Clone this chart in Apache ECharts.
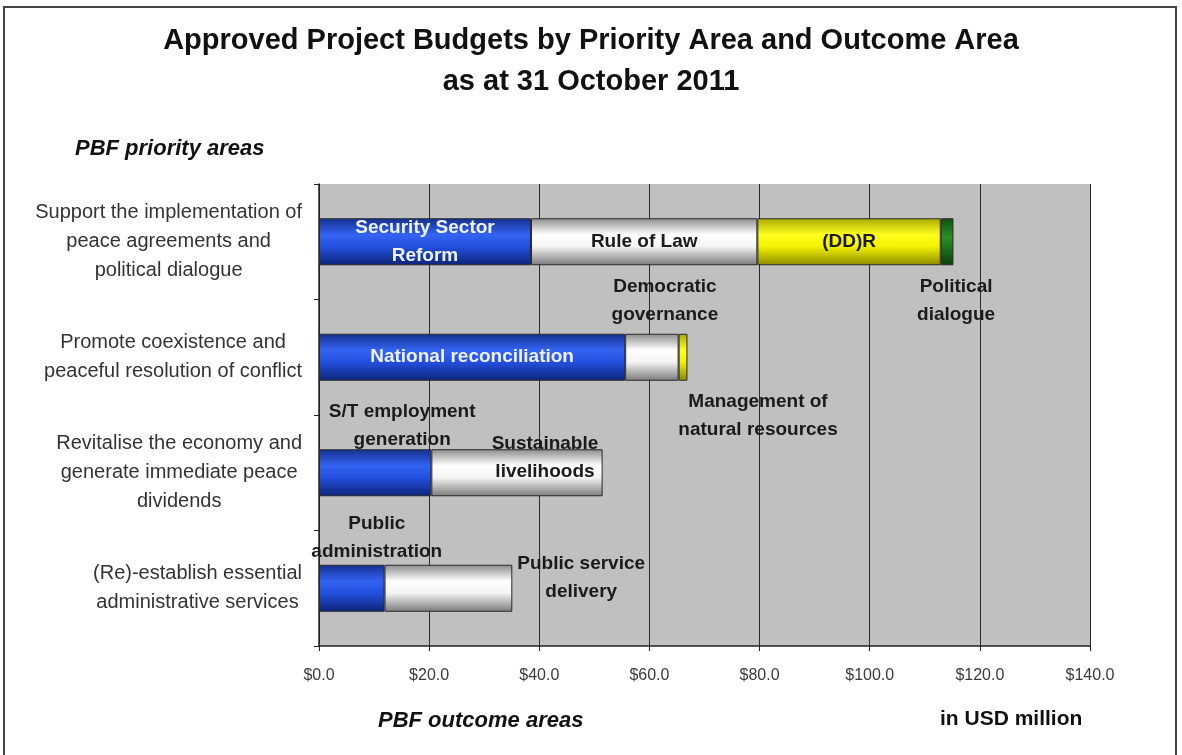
<!DOCTYPE html>
<html>
<head>
<meta charset="utf-8">
<script src="https://cdn.jsdelivr.net/npm/echarts@6/dist/echarts.min.js"></script>
<style>
  html, body { margin: 0; padding: 0; background: #ffffff; }
  #chart { position: absolute; left: 0; top: 0; width: 1182px; height: 755px; }
  #frame { position: absolute; left: 3px; top: 6px; width: 1170px; height: 760px; border: 2px solid #444; pointer-events: none; }
</style>
</head>
<body>
<div id="chart"></div>
<div id="frame"></div>
<script>
// ---- DATA ----
const categories = [
  'Support the implementation of\npeace agreements and\npolitical dialogue',
  'Promote coexistence and\npeaceful resolution of conflict',
  'Revitalise the economy and\ngenerate immediate peace\ndividends',
  '(Re)-establish essential\nadministrative services'
];
// first (blue) segment of each bar
const seg1Values = [38.5, 55.6, 20.4, 11.9];
const seg1Names = ['Security Sector\nReform', 'National reconciliation', 'S/T employment\ngeneration', 'Public\nadministration'];
// second (white) segment
const seg2Values = [41.1, 9.7, 31.1, 23.2];
const seg2Names = ['Rule of Law', 'Democratic\ngovernance', 'Sustainable\nlivelihoods', 'Public service\ndelivery'];
// third (yellow) segment
const seg3Values = [33.3, 1.6, null, null];
const seg3Names = ['(DD)R', 'Management of\nnatural resources', '', ''];
// fourth (green) segment
const seg4Values = [2.3, null, null, null];
const seg4Names = ['Political\ndialogue', '', '', ''];

const xMin = 0, xMax = 140, xStep = 20;

// ---- STYLE / LAYOUT ----
const FONT = '"Liberation Sans", Arial, sans-serif';
function richLines(s) {
  return s.split('\n').map(l => '{c|' + l + '}').join('\n');
}
const G = echarts.graphic.LinearGradient;
const fills = [
  new G(0, 0, 0, 1, [{offset: 0, color: '#14308f'}, {offset: 0.35, color: '#3463f2'}, {offset: 0.6, color: '#2350de'}, {offset: 1, color: '#0c2478'}]),
  new G(0, 0, 0, 1, [{offset: 0, color: '#8c8c8c'}, {offset: 0.35, color: '#ffffff'}, {offset: 0.6, color: '#f4f4f4'}, {offset: 1, color: '#7a7a7a'}]),
  new G(0, 0, 0, 1, [{offset: 0, color: '#a8a800'}, {offset: 0.35, color: '#ffff20'}, {offset: 0.6, color: '#f2f200'}, {offset: 1, color: '#8a8a00'}]),
  new G(0, 0, 0, 1, [{offset: 0, color: '#0d4f0d'}, {offset: 0.4, color: '#2a8f2a'}, {offset: 1, color: '#0a400a'}])
];
const labelPlaces = [
  [{position: 'inside', color: '#eef2ff'}, {position: 'inside', color: '#eef2ff'}, {position: 'top', offset: [27, 10]}, {position: 'top', offset: [25, 6]}],
  [{position: 'inside'}, {position: 'top', offset: [13, 0]}, {position: 'inside', offset: [28, -15]}, {position: 'right', offset: [0, -10]}],
  [{position: 'inside'}, {position: 'bottom', offset: [75, 2]}, {}, {}],
  [{position: 'bottom', offset: [9, 3]}, {}, {}, {}]
];
const segValues = [seg1Values, seg2Values, seg3Values, seg4Values];
const segNames = [seg1Names, seg2Names, seg3Names, seg4Names];
const LBL = 19;

const series = segValues.map((vals, si) => ({
  type: 'bar',
  stack: 'total',
  barWidth: 47,
  itemStyle: { color: fills[si], borderColor: '#2a2a2a', borderWidth: 1 },
  data: vals.map((v, i) => {
    const place = labelPlaces[si][i];
    const col = place.color || '#1a1a1a';
    return {
      value: v,
      label: Object.assign({
        show: v != null,
        formatter: richLines(segNames[si][i]),
        color: col,
        fontWeight: 'bold',
        fontSize: LBL,
        fontFamily: FONT,
        lineHeight: 28,
        rich: { c: { align: 'center', fontWeight: 'bold', fontSize: LBL, fontFamily: FONT, lineHeight: 28, color: col } }
      }, place)
    };
  })
}));

const option = {
  animation: false,
  backgroundColor: '#ffffff',
  title: [
    {
      text: 'Approved Project Budgets by Priority Area and Outcome Area\nas at 31 October 2011',
      left: 'center', top: 15,
      textStyle: { fontFamily: FONT, fontSize: 29, fontWeight: 'bold', color: '#111', lineHeight: 41 }
    },
    {
      text: 'PBF priority areas', left: 70, top: 133,
      textStyle: { fontFamily: FONT, fontSize: 22, fontWeight: 'bold', fontStyle: 'italic', color: '#111' }
    },
    {
      text: 'PBF outcome areas', left: 373, top: 705,
      textStyle: { fontFamily: FONT, fontSize: 22, fontWeight: 'bold', fontStyle: 'italic', color: '#111' }
    },
    {
      text: 'in USD million', left: 935, top: 704,
      textStyle: { fontFamily: FONT, fontSize: 21, fontWeight: 'bold', color: '#111' }
    }
  ],
  grid: {
    left: 319, right: 92, top: 184, bottom: 109,
    show: true, backgroundColor: '#c0c0c0', borderWidth: 0
  },
  xAxis: {
    type: 'value', min: xMin, max: xMax, interval: xStep,
    axisLine: { show: true, lineStyle: { color: '#222', width: 1.5 } },
    axisTick: { show: true, length: 5, lineStyle: { color: '#222' } },
    splitLine: { show: true, lineStyle: { color: '#2a2a2a', width: 1 } },
    axisLabel: {
      margin: 22, fontFamily: FONT, fontSize: 16, color: '#3a3a3a',
      formatter: v => '$' + v.toFixed(1)
    }
  },
  yAxis: {
    type: 'category', data: categories, inverse: true,
    axisLine: { show: true, lineStyle: { color: '#222', width: 1.5 } },
    axisTick: { show: true, length: 5, lineStyle: { color: '#222' } },
    axisLabel: {
      margin: 17, align: 'right', fontFamily: FONT, fontSize: 20, color: '#333', lineHeight: 29,
      formatter: v => richLines(v),
      rich: { c: { align: 'center', fontFamily: FONT, fontSize: 20, color: '#333', lineHeight: 29 } }
    }
  },
  series: series
};

const chart = echarts.init(document.getElementById('chart'), null, { renderer: 'canvas' });
chart.setOption(option);
</script>
</body>
</html>
